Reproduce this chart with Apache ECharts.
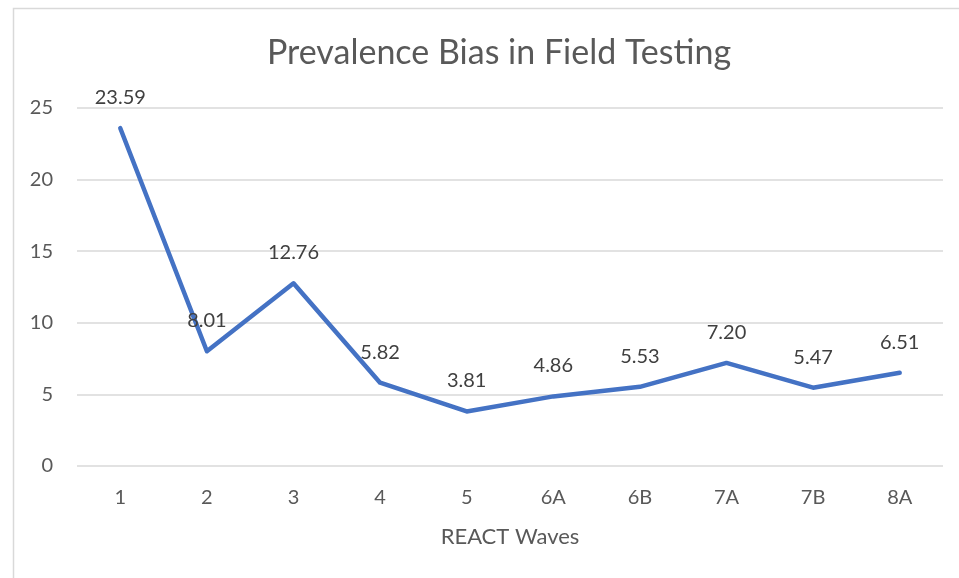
<!DOCTYPE html>
<html>
<head>
<meta charset="utf-8">
<script src="https://cdn.jsdelivr.net/npm/echarts@6/dist/echarts.min.js"></script>
<style>
html,body{margin:0;padding:0;background:#fff;}
#main{width:959px;height:578px;}
</style>
</head>
<body>
<div id="main"></div>
<script>
// REACT waves and their prevalence bias
var waves = ['1', '2', '3', '4', '5', '6A', '6B', '7A', '7B', '8A'];
var bias = [23.59, 8.01, 12.76, 5.82, 3.81, 4.86, 5.53, 7.20, 5.47, 6.51];
var yTicks = [0, 5, 10, 15, 20, 25];

var font = 'Lato, "Open Sans", sans-serif';
var myChart = echarts.init(document.getElementById('main'));
var option = {
    backgroundColor: '#fff',
    animation: false,
    graphic: [{
        type: 'rect',
        shape: {x: 13.5, y: 8.5, width: 960, height: 600},
        style: {fill: 'none', stroke: '#d9d9d9', lineWidth: 1.5}
    }],
    title: {
        text: 'Prevalence Bias in Field Testing',
        left: 262,
        top: 31,
        textStyle: {
            fontFamily: font,
            fontSize: 34,
            fontWeight: 'normal',
            color: '#595959'
        }
    },
    grid: {
        left: 77,
        right: 16,
        top: 108,
        bottom: 112
    },
    xAxis: {
        type: 'category',
        data: waves,
        boundaryGap: true,
        name: 'REACT Waves',
        nameLocation: 'middle',
        nameGap: 60,
        nameTextStyle: {fontFamily: font, fontSize: 22, color: '#595959'},
        axisLine: {show: false},
        axisTick: {show: false},
        axisLabel: {fontFamily: font, fontSize: 20, color: '#595959', margin: 22}
    },
    yAxis: {
        type: 'value',
        min: yTicks[0],
        max: yTicks[yTicks.length - 1],
        interval: 5,
        axisLine: {show: false},
        axisTick: {show: false},
        axisLabel: {fontFamily: font, fontSize: 20, color: '#595959', margin: 24},
        splitLine: {lineStyle: {color: '#d9d9d9', width: 1.5}}
    },
    series: [{
        type: 'line',
        data: bias,
        showSymbol: true,
        symbol: 'circle',
        symbolSize: 1,
        lineStyle: {color: '#4472C4', width: 4.5, cap: 'round', join: 'round'},
        itemStyle: {color: '#4472C4'},
        label: {
            show: true,
            position: 'top',
            distance: 20,
            fontFamily: font,
            fontSize: 20,
            color: '#404040',
            formatter: function (p) { return p.value.toFixed(2); }
        }
    }]
};
myChart.setOption(option);
</script>
</body>
</html>
